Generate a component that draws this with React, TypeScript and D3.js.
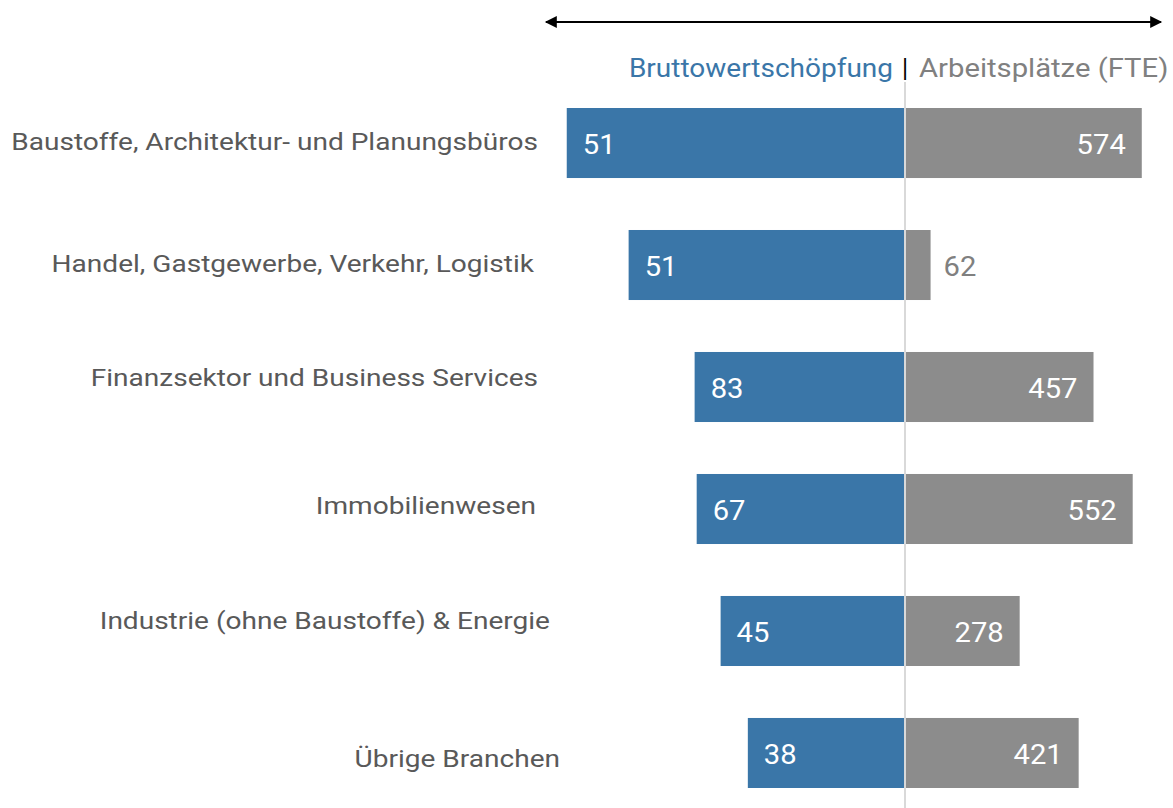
import React, { useEffect, useRef } from "react";
import * as d3 from "d3";

const categories = [
  "Baustoffe, Architektur- und Planungsbüros",
  "Handel, Gastgewerbe, Verkehr, Logistik",
  "Finanzsektor und Business Services",
  "Immobilienwesen",
  "Industrie (ohne Baustoffe) & Energie",
  "Übrige Branchen",
];
// bar lengths as drawn (Bruttowertschöpfung)
const bwsBars = [82, 67, 51, 50.5, 44.7, 38.1];
// value labels printed on the blue bars
const bwsLabels = ["51", "51", "83", "67", "45", "38"];
const fteValues = [574, 62, 457, 552, 278, 421];

// small per-row nudges of the category labels (text centre vs bar centre, right edge)
const labelRight = [538, 534, 538, 536, 550, 560];
const labelDy = [-2, -2, -10, -4, -11, 5];

const W = 1173;
const H = 808;
const BLUE = "#3A76A8";
const GREY = "#8C8C8C";
const FONT = "Roboto, 'Liberation Sans', sans-serif";
const SX = 1.145; // horizontal stretch to mimic the wider original typeface

export default function App() {
  const svgRef = useRef<SVGSVGElement>(null);

  useEffect(() => {
    if (!svgRef.current) return;
    const svg = d3.select(svgRef.current);
    svg.selectAll("*").remove();

    const center = 905;
    const y = d3
      .scaleBand<string>()
      .domain(categories)
      .range([108, 788])
      .paddingInner(0.426)
      .paddingOuter(0);
    const xBlue = d3.scaleLinear().domain([0, 100]).range([center, center - 412.5]);
    const xGrey = d3.scaleLinear().domain([0, 1000]).range([center, center + 412.5]);

    const stretched = (
      sel: d3.Selection<any, any, any, any>,
      x: number,
      yy: number,
      sx = SX
    ) => sel.attr("transform", `translate(${x},${yy}) scale(${sx},1)`);

    // arrow on top
    const defs = svg.append("defs");
    ["start", "end"].forEach((k) => {
      defs
        .append("marker")
        .attr("id", "arr-" + k)
        .attr("viewBox", "0 0 10 10")
        .attr("refX", 9)
        .attr("refY", 5)
        .attr("markerWidth", 14)
        .attr("markerHeight", 12)
        .attr("markerUnits", "userSpaceOnUse")
        .attr("orient", "auto-start-reverse")
        .append("path")
        .attr("d", "M0,0L10,5L0,10Z")
        .attr("fill", "#000");
    });
    svg
      .append("line")
      .attr("x1", 546)
      .attr("x2", 1161)
      .attr("y1", 22)
      .attr("y2", 22)
      .attr("stroke", "#000")
      .attr("stroke-width", 2)
      .attr("marker-start", "url(#arr-start)")
      .attr("marker-end", "url(#arr-end)");

    // header
    stretched(svg.append("text"), 893, 77, 1.12)
      .attr("text-anchor", "end")
      .attr("fill", BLUE)
      .style("font-family", FONT)
      .style("font-size", "25px")
      .text("Bruttowertschöpfung");
    svg
      .append("text")
      .attr("x", center)
      .attr("y", 77)
      .attr("text-anchor", "middle")
      .attr("fill", "#000")
      .style("font-family", FONT)
      .style("font-size", "25px")
      .text("|");
    stretched(svg.append("text"), 919, 77, 1.17)
      .attr("fill", "#808080")
      .style("font-family", FONT)
      .style("font-size", "25px")
      .text("Arbeitsplätze (FTE)");

    const rows = svg
      .append("g")
      .selectAll("g")
      .data(categories)
      .join("g");

    rows
      .append("rect")
      .attr("x", (_, i) => xBlue(bwsBars[i]))
      .attr("y", (d) => y(d)!)
      .attr("width", (_, i) => center - xBlue(bwsBars[i]))
      .attr("height", y.bandwidth())
      .attr("fill", BLUE);

    rows
      .append("rect")
      .attr("x", center)
      .attr("y", (d) => y(d)!)
      .attr("width", (_, i) => xGrey(fteValues[i]) - center)
      .attr("height", y.bandwidth())
      .attr("fill", GREY);

    const mid = (d: string) => y(d)! + y.bandwidth() / 2;
    const inside = (i: number) => xGrey(fteValues[i]) - center > 80;

    rows.each(function (d, i) {
      const g = d3.select(this);
      stretched(g.append("text"), xBlue(bwsBars[i]) + 16, mid(d) + 2, 1.08)
        .attr("dy", "0.35em")
        .attr("fill", "#fff")
        .style("font-family", FONT)
        .style("font-size", "27px")
        .text(bwsLabels[i]);

      const xe = xGrey(fteValues[i]);
      stretched(g.append("text"), inside(i) ? xe - 16 : xe + 13, mid(d) + 2, 1.08)
        .attr("dy", "0.35em")
        .attr("text-anchor", inside(i) ? "end" : "start")
        .attr("fill", inside(i) ? "#fff" : "#808080")
        .style("font-family", FONT)
        .style("font-size", "27px")
        .text(String(fteValues[i]));

      stretched(g.append("text"), labelRight[i], mid(d) + labelDy[i])
        .attr("dy", "0.35em")
        .attr("text-anchor", "end")
        .attr("fill", "#595959")
        .style("font-family", FONT)
        .style("font-size", "24.5px")
        .text(d);
    });

    // centre line
    svg
      .append("line")
      .attr("x1", center)
      .attr("x2", center)
      .attr("y1", 82)
      .attr("y2", H)
      .attr("stroke", "#D9D9D9")
      .attr("stroke-width", 2);
  }, []);

  return (
    <div style={{ position: "absolute", left: 0, top: 0, background: "#fff" }}>
      <svg ref={svgRef} width={W} height={H} style={{ display: "block" }} />
    </div>
  );
}
